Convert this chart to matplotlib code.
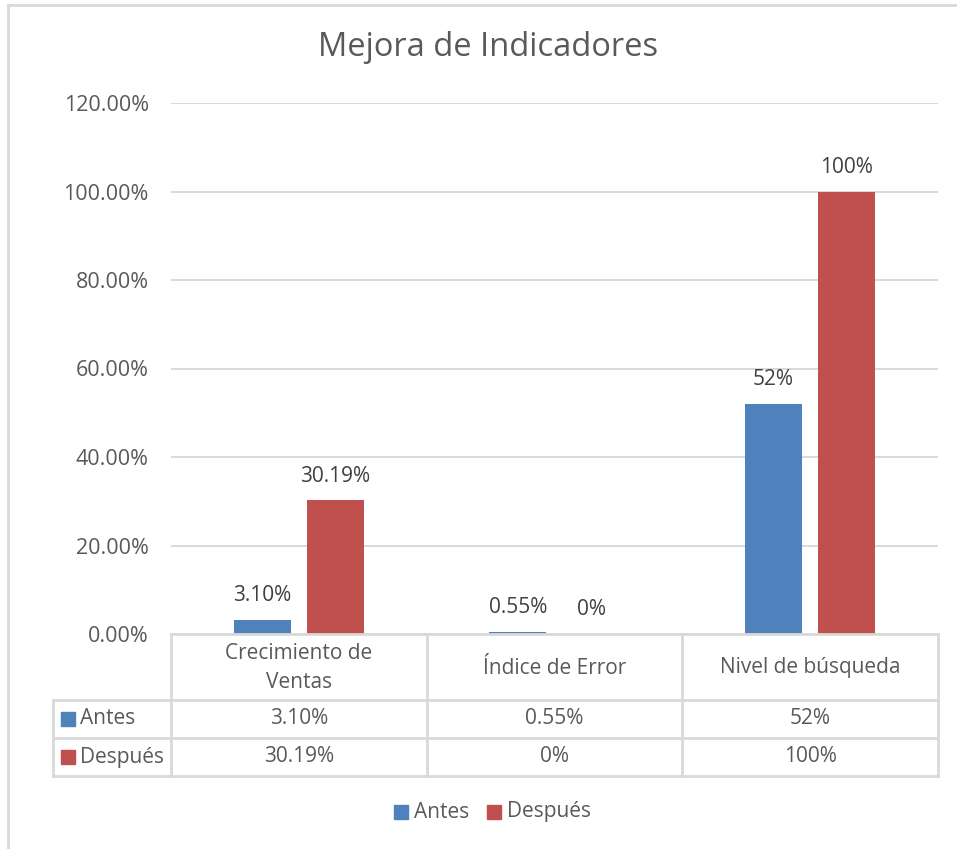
import matplotlib.pyplot as plt
from matplotlib.lines import Line2D
from matplotlib.patches import Rectangle
import numpy as np

categories = ["Crecimiento de\nVentas", "Índice de Error", "Nivel de búsqueda"]
series = ["Antes", "Después"]
antes = [3.10, 0.55, 52.0]
despues = [30.19, 0.0, 100.0]
antes_labels = ["3.10%", "0.55%", "52%"]
despues_labels = ["30.19%", "0%", "100%"]
yticks = [0, 20, 40, 60, 80, 100, 120]

colors = {"Antes": "#4f81bd", "Después": "#c0504d"}
grid_c = "#d9d9d9"
text_c = "#595959"
fs = 15

plt.rcParams["font.family"] = ["Open Sans", "DejaVu Sans"]

W, H = 957, 849
fig = plt.figure(figsize=(W / 100, H / 100), dpi=100)


def fx(px):
    return px / W


def fy(py):
    return 1 - py / H


# outer chart frame
fig.add_artist(Line2D([fx(8), 1], [fy(5), fy(5)], color=grid_c, lw=2))
fig.add_artist(Line2D([fx(8), fx(8)], [fy(5), 0], color=grid_c, lw=2))

# plot area
left, right, top, bottom = 171, 938, 103, 634
ax = fig.add_axes([fx(left), fy(bottom), fx(right - left), fy(top) - fy(bottom)])
x = np.arange(len(categories))
width = 0.223
off = 0.143
b1 = ax.bar(x - off, antes, width, color=colors["Antes"], zorder=3)
b2 = ax.bar(x + off, despues, width, color=colors["Después"], zorder=3)
for bars, labels in ((b1, antes_labels), (b2, despues_labels)):
    for rect, lab in zip(bars, labels):
        ax.annotate(lab, (rect.get_x() + rect.get_width() / 2, rect.get_height()),
                    xytext=(0, 10), textcoords="offset points", ha="center",
                    va="bottom", fontsize=fs, color="#404040")

ax.set_xlim(-0.5, len(categories) - 0.5)
ax.set_ylim(0, 120)
ax.set_yticks(yticks)
ax.set_yticklabels([f"{v:.2f}%" for v in yticks], fontsize=15.5, color=text_c)
ax.set_xticks([])
ax.tick_params(axis="y", length=0, pad=16)
ax.yaxis.grid(True, color=grid_c, lw=1.4, zorder=0)
for s in ax.spines.values():
    s.set_visible(False)

fig.text(fx(488), fy(48), "Mejora de Indicadores", ha="center", va="center",
         fontsize=23.5, color=text_c)

# data table under the plot
tx0, tx1, ty0, ty1 = 53, 938, 634, 776
tax = fig.add_axes([fx(tx0), fy(ty1), fx(tx1 - tx0), fy(ty0) - fy(ty1)])
tax.set_xlim(tx0, tx1)
tax.set_ylim(ty1, ty0)
tax.axis("off")
row_y = [634, 700, 738, 776]
col_x = [171 + i * (right - left) / len(categories) for i in range(len(categories) + 1)]
lk = dict(color=grid_c, lw=2, solid_capstyle="projecting", clip_on=False)
tax.plot([col_x[0], col_x[-1]], [row_y[0]] * 2, **lk)
for yy in row_y[1:]:
    tax.plot([tx0, tx1], [yy, yy], **lk)
for xx in col_x:
    tax.plot([xx, xx], [row_y[0], row_y[-1]], **lk)
tax.plot([tx0, tx0], [row_y[1], row_y[-1]], **lk)

for i, cat in enumerate(categories):
    cx = (col_x[i] + col_x[i + 1]) / 2
    tax.text(cx, (row_y[0] + row_y[1]) / 2 + 1, cat, ha="center", va="center",
             fontsize=fs, color=text_c, linespacing=1.45)
    tax.text(cx, (row_y[1] + row_y[2]) / 2, antes_labels[i], ha="center",
             va="center", fontsize=fs, color=text_c)
    tax.text(cx, (row_y[2] + row_y[3]) / 2, despues_labels[i], ha="center",
             va="center", fontsize=fs, color=text_c)

for r, name in enumerate(series):
    cy = (row_y[r + 1] + row_y[r + 2]) / 2
    tax.add_patch(Rectangle((61, cy - 7), 14, 14, color=colors[name], clip_on=False))
    tax.text(80, cy, name, ha="left", va="center", fontsize=fs, color=text_c)

# legend
ly = 812
lx = [394, 487]
for name, px in zip(series, lx):
    fig.add_artist(Rectangle((fx(px), fy(ly + 7)), fx(14), fy(ly - 7) - fy(ly + 7),
                             color=colors[name]))
    fig.text(fx(px + 20), fy(ly), name, ha="left", va="center", fontsize=fs,
             color=text_c)

fig.savefig("out.png", dpi=100)
